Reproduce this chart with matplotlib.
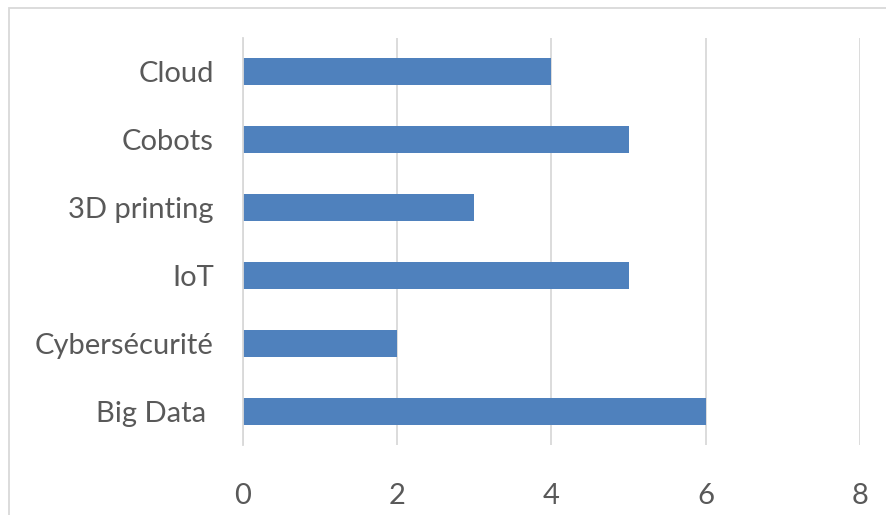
import numpy as np
import matplotlib.pyplot as plt
from matplotlib.patches import Rectangle

categories = ['Big Data ', 'Cybersécurité', 'IoT', '3D printing', 'Cobots', 'Cloud']
values = [6, 2, 5, 3, 5, 4]
xticks = [0, 2, 4, 6, 8]

plt.rcParams['font.family'] = ['Lato', 'DejaVu Sans']
text_color = '#595959'

fig = plt.figure(figsize=(8.87, 5.15), dpi=100)
ax = fig.add_axes([243 / 887, 1 - 445 / 515, 617 / 887, 407 / 515])

y = np.arange(len(categories))
ax.barh(y, values, height=0.4, color='#4F81BD', zorder=3)

ax.set_xlim(0, 8)
ax.set_ylim(-0.5, len(categories) - 0.5)
ax.set_xticks(xticks)
ax.set_xticklabels([str(t) for t in xticks])
ax.set_yticks(y)
ax.set_yticklabels(categories)

ax.grid(axis='x', color='#D9D9D9', linewidth=1.3, zorder=0)
for s in ['top', 'right', 'bottom']:
    ax.spines[s].set_visible(False)
ax.spines['left'].set_color('#D9D9D9')
ax.spines['left'].set_linewidth(1.3)
ax.spines['left'].set_zorder(4)

ax.tick_params(axis='both', length=0, labelsize=21, colors=text_color)
ax.tick_params(axis='x', pad=27)
ax.tick_params(axis='y', pad=21)

# outer chart border (runs off right and bottom edges)
fig.patches.append(Rectangle((9 / 887, -0.1), 1.2, 1 - 8 / 515 + 0.1,
                             transform=fig.transFigure, fill=False,
                             edgecolor='#D9D9D9', linewidth=1.3))

fig.savefig('out.png', dpi=100)
